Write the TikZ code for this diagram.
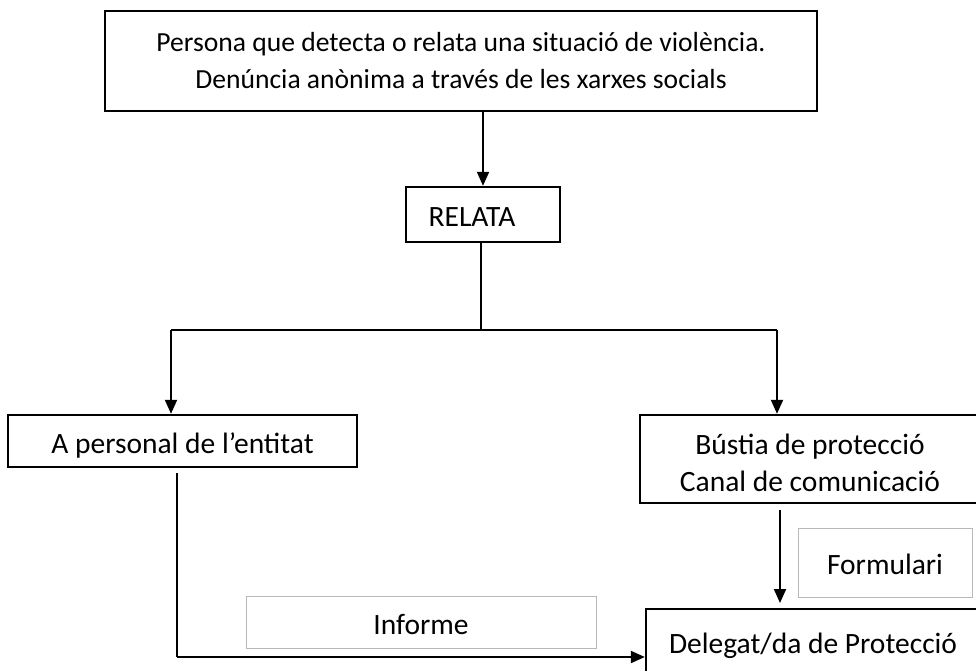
\documentclass[tikz,border=0pt]{standalone}
\usepackage{fontspec}
\setmainfont{Carlito}
\usetikzlibrary{arrows.meta}
\begin{document}
\begin{tikzpicture}[x=1pt,y=-1pt,
  every node/.style={font=\fontsize{29.5}{36}\selectfont, inner sep=0pt, align=center},
  oneline/.style={text height=24pt, text depth=0pt},
  mainbox/.style={draw=black, line width=2.4pt},
  labelbox/.style={draw=black!28, line width=1pt},
  conn/.style={line width=2pt},
  arr/.style={conn, -{Triangle[length=14pt,width=12pt]}}]
\useasboundingbox (0,0) rectangle (976,670);
\begin{scope}
\clip (0,0) rectangle (976,670);
\node[mainbox, minimum width=712, minimum height=100, font=\fontsize{27.6}{37}\selectfont,
  text height=61pt, text depth=7pt] (top) at (461,61)
  {Persona que detecta o relata una situació de violència.\\Denúncia anònima a través de les xarxes socials};
\node[mainbox, oneline, minimum width=154, minimum height=55] (relata) at (483,214.5) {RELATA\hspace*{22pt}};
\node[mainbox, oneline, minimum width=349, minimum height=52] (personal) at (182.5,441) {A personal de l’entitat};
\node[mainbox, minimum width=340, minimum height=88, font=\fontsize{29.5}{37}\selectfont,
  text height=66pt, text depth=2pt] (bustia) at (810,459) {Bústia de protecció\\Canal de comunicació};
\node[labelbox, oneline, minimum width=174, minimum height=69] (formulari) at (885,562.5) {Formulari};
\node[labelbox, oneline, minimum width=350, minimum height=52] (informe) at (421,622) {Informe};
\node[mainbox, oneline, minimum width=334, minimum height=64] (delegat) at (813,641) {Delegat/da de Protecció};

\coordinate (j) at (481,330);
\coordinate (jl) at (171,330);
\coordinate (jr) at (777,330);
\coordinate (ls) at (177,473);
\coordinate (lc) at (177,657);
\coordinate (bs) at (780,510);
\coordinate (be) at (780,603);

\draw[arr] (relata.north |- top.south) -- (relata.north);
\draw[conn] (relata.south -| j) -- (j);
\draw[conn] (jl) -- (jr);
\draw[arr] (jl) -- (personal.north -| jl);
\draw[arr] (jr) -- (bustia.north -| jr);
\draw[conn] (ls) -- (lc);
\draw[arr] (lc) -- (delegat.west |- lc);
\draw[arr] (bs) -- (be);
\end{scope}
\end{tikzpicture}
\end{document}
